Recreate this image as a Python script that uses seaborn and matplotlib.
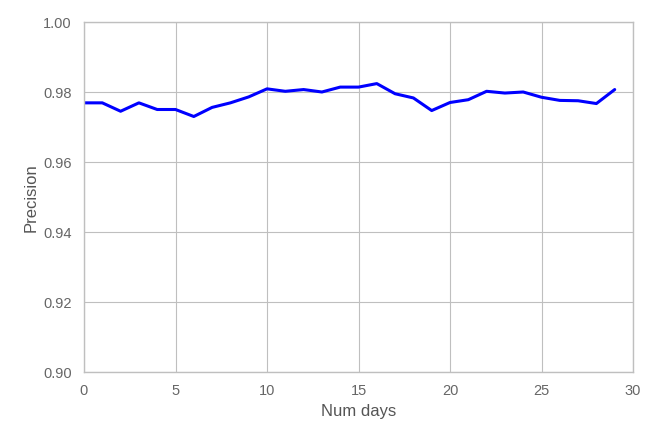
import numpy as np
import pandas as pd
import matplotlib
matplotlib.use('Agg')
import matplotlib.pyplot as plt
import seaborn as sns

# Precision per number of days
num_days = list(range(30))
precision = [0.9769, 0.9769, 0.9745, 0.9769, 0.9750, 0.9750, 0.9730, 0.9756,
             0.9769, 0.9786, 0.9809, 0.9802, 0.9807, 0.9800, 0.9814, 0.9814,
             0.9824, 0.9795, 0.9783, 0.9747, 0.9770, 0.9778, 0.9802, 0.9797,
             0.9800, 0.9785, 0.9776, 0.9775, 0.9767, 0.9807]

sns.set_style("whitegrid", {'axes.edgecolor': '#bfbfbf', 'grid.color': '#bfbfbf'})
plt.rcParams['font.family'] = ['Liberation Sans', 'DejaVu Sans']

df = pd.DataFrame({'Num days': num_days, 'Precision': precision})

fig = plt.figure(figsize=(6.49, 4.27), dpi=100)
ax = fig.add_axes([84 / 649, 1 - 373 / 427, 549 / 649, 350 / 427])
sns.lineplot(data=df, x='Num days', y='Precision', color='blue', linewidth=2.2, ax=ax)

ax.set_xlim(0, 30)
ax.set_ylim(0.90, 1.00)
ax.set_xticks(range(0, 31, 5))
ax.set_yticks(np.arange(0.90, 1.001, 0.02))
ax.set_yticklabels([f'{v:.2f}' for v in np.arange(0.90, 1.001, 0.02)])
ax.tick_params(colors='#666666', labelsize=10.5, length=0)
ax.tick_params(axis='x', pad=8)
ax.tick_params(axis='y', pad=9)
ax.set_xlabel('Num days', fontsize=12, color='#555555', labelpad=4)
ax.set_ylabel('Precision', fontsize=12, color='#555555', labelpad=3)
for s in ax.spines.values():
    s.set_linewidth(1)

fig.savefig('out.png', dpi=100)
